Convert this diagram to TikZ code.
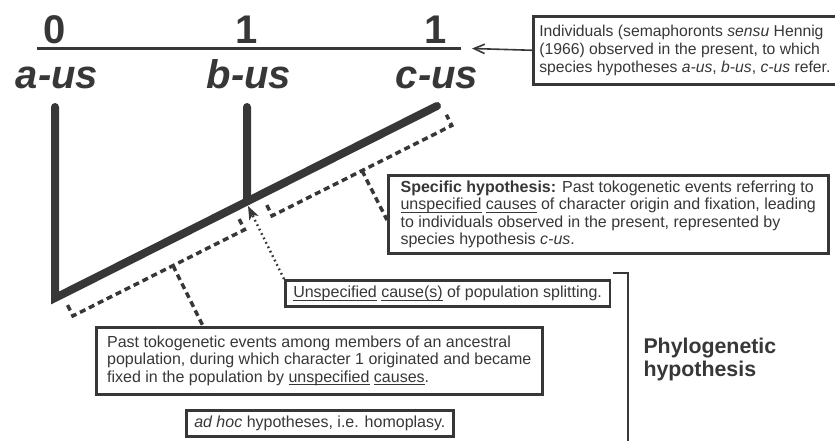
\documentclass[tikz,border=0pt]{standalone}
\usepackage{fontspec}
\setmainfont{Liberation Sans}
\usetikzlibrary{arrows.meta,calc}
\definecolor{ink}{RGB}{55,55,55}
\tikzset{every picture/.style={line width=0.75pt}}
\newcommand\ulword[1]{\leavevmode\setbox0\hbox{#1}\rlap{\rule[-2.2pt]{\wd0}{0.6pt}}\box0\relax}

\begin{document}
\begin{tikzpicture}[x=0.75pt,y=0.75pt,yscale=-1,xscale=1,
  branch/.style={draw=ink, line width=6pt, line cap=round, line join=miter},
  bracket/.style={draw=ink, line width=2.6pt, dash pattern=on 4.5pt off 3pt},
  dotline/.style={draw=ink, line width=1.8pt, dash pattern=on 1.3pt off 2.4pt, -{Stealth[length=10pt,width=7.5pt,inset=2.5pt]}},
  box/.style={draw=ink, line width=1.9pt, anchor=north west, inner xsep=6pt, inner ysep=2pt, align=left, text=ink, font=\fontsize{12}{13}\selectfont},
  big/.style={text=ink, anchor=base, inner sep=0pt, font=\fontsize{30}{36}\selectfont\bfseries},
]
\useasboundingbox (0,0) rectangle (835,440);

%Points of the tree
\coordinate (tipA) at (55,107);
\coordinate (tipB) at (247,107);
\coordinate (tipC) at (437,106);
\coordinate (root) at (55,298);
\coordinate (split) at (247.1,201.4);
\coordinate (splittip) at (248,206);
%Points of the dashed brackets
\coordinate (lowAin) at (67.5,305.1);
\coordinate (lowA) at (72.9,315.9);
\coordinate (lowmid) at (173,265.6);
\coordinate (lowB) at (244.5,229.7);
\coordinate (lowBin) at (239.1,218.9);
\coordinate (upAin) at (266.8,205);
\coordinate (upA) at (272.2,215.8);
\coordinate (upmid) at (362,170.6);
\coordinate (upB) at (451.8,125.5);
\coordinate (upBin) at (446.4,114.7);
%Character bar
\coordinate (barL) at (37,48.5);
\coordinate (barR) at (461,48.5);
\coordinate (barend) at (472,48.5);

%Straight Lines
\draw [branch] (tipA) -- (root) -- (tipC) ;
%Straight Lines
\draw [branch] (tipB) -- (split) ;
%Straight Lines
\draw [draw=ink, line width=2.4pt] (barL) -- (barR) ;

% Text Node
\draw (55,43) node [big] (st0) {0};
% Text Node
\draw (247,43) node [big] (st1) {1};
% Text Node
\draw (436,43) node [big] (st2) {1};
% Text Node
\draw (57,88) node [big] (aus) {\itshape a-us};
% Text Node
\draw (249,88) node [big] (bus) {\itshape b-us};
% Text Node
\draw (437,88) node [big] (cus) {\itshape c-us};

% Text Node
\draw (532,15) node [box, inner xsep=4.5pt, minimum width=226.5pt, minimum height=51pt, font=\fontsize{11.8}{13.4}\selectfont] (indiv) {Individuals (semaphoronts \textit{sensu} Hennig\\(1966) observed in the present, to which\\species hypotheses \textit{a-us}, \textit{b-us}, \textit{c-us} refer.};
% Text Node
\draw (387,174) node [box, minimum width=330pt, minimum height=58.5pt] (spec) {\textbf{Specific hypothesis:} Past tokogenetic events referring to\\\ulword{unspecified} \ulword{causes} of character origin and fixation, leading\\to individuals observed in the present, represented by\\species hypothesis \textit{c-us}.};
% Text Node
\draw (284,279) node [box, minimum width=240.75pt, minimum height=19.5pt] (unspec) {\ulword{Unspecified} \ulword{cause(s)} of population splitting.};
% Text Node
\draw (95,326) node [box, minimum width=334.5pt, minimum height=50.25pt] (past) {Past tokogenetic events among members of an ancestral\\population, during which character 1 originated and became\\fixed in the population by \ulword{unspecified} \ulword{causes}.};
% Text Node
\draw (185,409) node [box, minimum width=200.25pt, minimum height=19.5pt] (adhoc) {\textit{ad hoc} hypotheses, i.e. homoplasy.};

%Dashed brackets
\draw [bracket] (lowAin) -- (lowA) -- (lowB) -- (lowBin) ;
\draw [bracket] (lowmid) -- ($(past.north west)+(108,0)$) ;
\draw [bracket] (upAin) -- (upA) -- (upB) -- (upBin) ;
\draw [bracket] (upmid) -- ($(spec.north west)+(0,46)$) ;

%Arrows
\draw [draw=ink, line width=1.2pt, -{Straight Barb[length=8pt,width=7pt]}] (indiv.west) -- (barend) ;
\draw [dotline] (unspec.north west) -- (splittip) ;

%Phylogenetic hypothesis
\draw [draw=ink, line width=2pt] (613,273) -- (628,273) -- (628,445) ;
% Text Node
\draw (643,337.5) node [anchor=north west, inner sep=0pt, align=left, text=ink, font=\fontsize{16}{17}\selectfont\bfseries] (phylo) {Phylogenetic\\hypothesis};

\end{tikzpicture}
\end{document}
